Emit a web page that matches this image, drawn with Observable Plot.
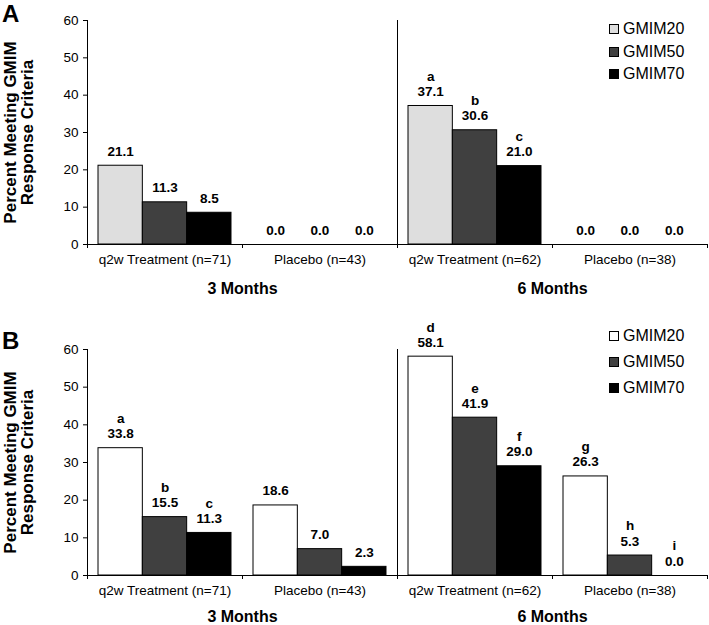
<!DOCTYPE html>
<html><head><meta charset="utf-8">
<script src="https://cdn.jsdelivr.net/npm/d3@7"></script>
<script src="https://cdn.jsdelivr.net/npm/@observablehq/plot@0.6"></script>
<style>
body{margin:0;background:#fff;font-family:"Liberation Sans",Arial,sans-serif;color:#000;}
.panel{position:relative;width:709px;}
.panel svg{display:block;}
.tag{position:absolute;left:2px;font-weight:bold;font-size:24px;line-height:24px;}
.row{position:absolute;left:609px;display:flex;align-items:center;white-space:nowrap;height:20px;font-size:16px;line-height:20px;}
.sw{width:10px;height:10px;border:1px solid #000;box-sizing:border-box;margin-right:4px;}
</style>
</head><body>
<div id="root"></div>
<script>
const groups = ["q2w Treatment (n=71)", "Placebo (n=43)", "q2w Treatment (n=62)", "Placebo (n=38)"];
const periods = ["3 Months", "6 Months"];
const series = ["GMIM20", "GMIM50", "GMIM70"];
const yTicks = [0, 10, 20, 30, 40, 50, 60];

// Panel A
const a20 = [21.1, 0.0, 37.1, 0.0];
const a50 = [11.3, 0.0, 30.6, 0.0];
const a70 = [8.5, 0.0, 21.0, 0.0];
const aLet20 = ["", "", "a", ""];
const aLet50 = ["", "", "b", ""];
const aLet70 = ["", "", "c", ""];
const colorsA = ["#dedede", "#404040", "#000000"];

// Panel B
const b20 = [33.8, 18.6, 58.1, 26.3];
const b50 = [15.5, 7.0, 41.9, 5.3];
const b70 = [11.3, 2.3, 29.0, 0.0];
const bLet20 = ["a", "", "d", "g"];
const bLet50 = ["b", "", "e", "h"];
const bLet70 = ["c", "", "f", "i"];
const colorsB = ["#ffffff", "#404040", "#000000"];

const yTitle = "Percent Meeting GMIM\nResponse Criteria";
const FONT = "Liberation Sans, Arial, sans-serif";

function makePanel(tag, vals, lets, colors, opts) {
  const bw = 0.286, pad = (1 - 3 * bw) / 2;
  const rows = [];
  series.forEach((s, j) => {
    groups.forEach((g, i) => {
      const x1 = i + pad + j * bw;
      rows.push({s, g, v: vals[j][i], l: lets[j][i], x1, x2: x1 + bw, xm: x1 + bw / 2});
    });
  });
  const chart = Plot.plot({
    width: 709, height: opts.height,
    marginLeft: 87, marginRight: 2, marginTop: opts.marginTop, marginBottom: opts.marginBottom,
    style: {fontFamily: FONT, fontSize: "13px", color: "#000", background: "#fff"},
    x: {domain: [0, 4], axis: null},
    y: {domain: [0, 60], axis: null},
    color: {domain: series, range: colors},
    marks: [
      Plot.rect(rows.filter(d => d.v > 0), {x1: "x1", x2: "x2", y1: 0, y2: "v", fill: "s", stroke: "#000", strokeWidth: 1}),
      Plot.ruleY([0], {stroke: "#000"}),
      Plot.ruleX([0], {stroke: "#000"}),
      Plot.ruleX([2], {stroke: "#000"}),
      Plot.axisY({ticks: yTicks, tickSize: 4, tickPadding: 5, fontSize: 13.5, label: null}),
      Plot.axisX({ticks: [0, 1, 2, 3, 4], tickSize: 4, tickFormat: () => "", label: null}),
      Plot.axisX({ticks: [0.5, 1.5, 2.5, 3.5], tickSize: 0, tickPadding: 10, fontSize: 13.5,
        tickFormat: d => groups[Math.floor(d)], label: null}),
      Plot.axisX({ticks: [1, 3], tickSize: 0, tickPadding: opts.periodPad, fontSize: 16, fontWeight: "bold",
        tickFormat: d => periods[(d - 1) / 2], label: null}),
      Plot.text(rows, {x: "xm", y: "v", text: d => (d.l ? d.l + "\n" : "") + d.v.toFixed(1),
        lineAnchor: "bottom", dy: -10, fontWeight: "bold", fontSize: 13.5, lineHeight: 1.12}),
      Plot.text([yTitle], {text: d => d, frameAnchor: "left", textAnchor: "middle", dx: -68.5, rotate: -90,
        fontSize: 17, fontWeight: "bold", lineHeight: 1.02})
    ]
  });
  const div = document.createElement("div");
  div.className = "panel";
  div.appendChild(chart);
  const t = document.createElement("div");
  t.className = "tag";
  t.style.top = opts.tagTop + "px";
  t.textContent = tag;
  div.appendChild(t);
  series.forEach((s, j) => {
    const r = document.createElement("div");
    r.className = "row";
    r.style.top = (opts.legendCenters[j] - 10) + "px";
    const sw = document.createElement("div");
    sw.className = "sw";
    sw.style.background = colors[j];
    r.appendChild(sw);
    r.appendChild(document.createTextNode(s));
    div.appendChild(r);
  });
  return div;
}

const root = document.getElementById("root");
root.appendChild(makePanel("A", [a20, a50, a70], [aLet20, aLet50, aLet70], colorsA,
  {height: 310, marginTop: 20, marginBottom: 66, tagTop: 1.5, periodPad: 38, legendCenters: [29.3, 51.7, 74.3]}));
root.appendChild(makePanel("B", [b20, b50, b70], [bLet20, bLet50, bLet70], colorsB,
  {height: 315, marginTop: 39, marginBottom: 50, tagTop: 18.5, periodPad: 35, legendCenters: [25.7, 51.7, 78.3]}));
</script>
</body></html>
